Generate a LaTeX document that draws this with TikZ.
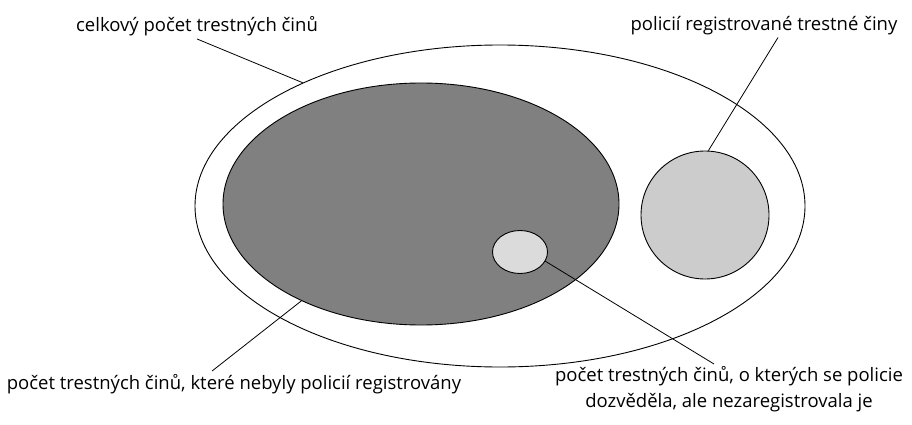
\documentclass[tikz,border=0pt]{standalone}
\usepackage{fontspec}
\setmainfont{Open Sans}
\usetikzlibrary{shapes.geometric,calc}

\begin{document}
\begin{tikzpicture}[x=1pt, y=-1pt,
    set/.style={ellipse, draw, line width=0.9pt, inner sep=0pt},
    lbl/.style={font=\fontsize{18.5}{26}\selectfont, inner sep=0pt, align=center},
    pointer/.style={line width=0.8pt}]
    \useasboundingbox (0,0) rectangle (912,425);

    % --- Sets ---
    \node[set, minimum width=610pt, minimum height=322pt] (total) at (500,206) {};
    \node[set, fill=black!50, minimum width=396pt, minimum height=242pt] (hidden) at (421,204) {};
    \node[set, fill=black!20, minimum width=128pt, minimum height=128pt] (registered) at (705,215) {};
    \node[set, fill=black!14, minimum width=55pt, minimum height=43pt] (known) at (520,252) {};

    % --- Labels ---
    \node[lbl] (totalLbl) at (197,26) {celkový počet trestných činů};
    \node[lbl] (registeredLbl) at (764,26) {policií registrované trestné činy};
    \node[lbl] (hiddenLbl) at (234,384) {počet trestných činů, které nebyly policií registrovány};
    \node[lbl, anchor=north] (knownLbl) at (729,366) {počet trestných činů, o kterých se policie\\dozvěděla, ale nezaregistrovala je};

    % --- Pointers ---
    \draw[pointer] ([yshift=-3pt]totalLbl.south) -- (total.148.7);
    \draw[pointer] ([xshift=14pt,yshift=-2pt]registeredLbl.south) -- (registered.87);
    \draw[pointer] ([xshift=-22pt,yshift=3pt]hiddenLbl.north) -- (hidden.219.4);
    \draw[pointer] ([xshift=-15pt,yshift=2pt]knownLbl.north) -- (known.340);
\end{tikzpicture}
\end{document}
